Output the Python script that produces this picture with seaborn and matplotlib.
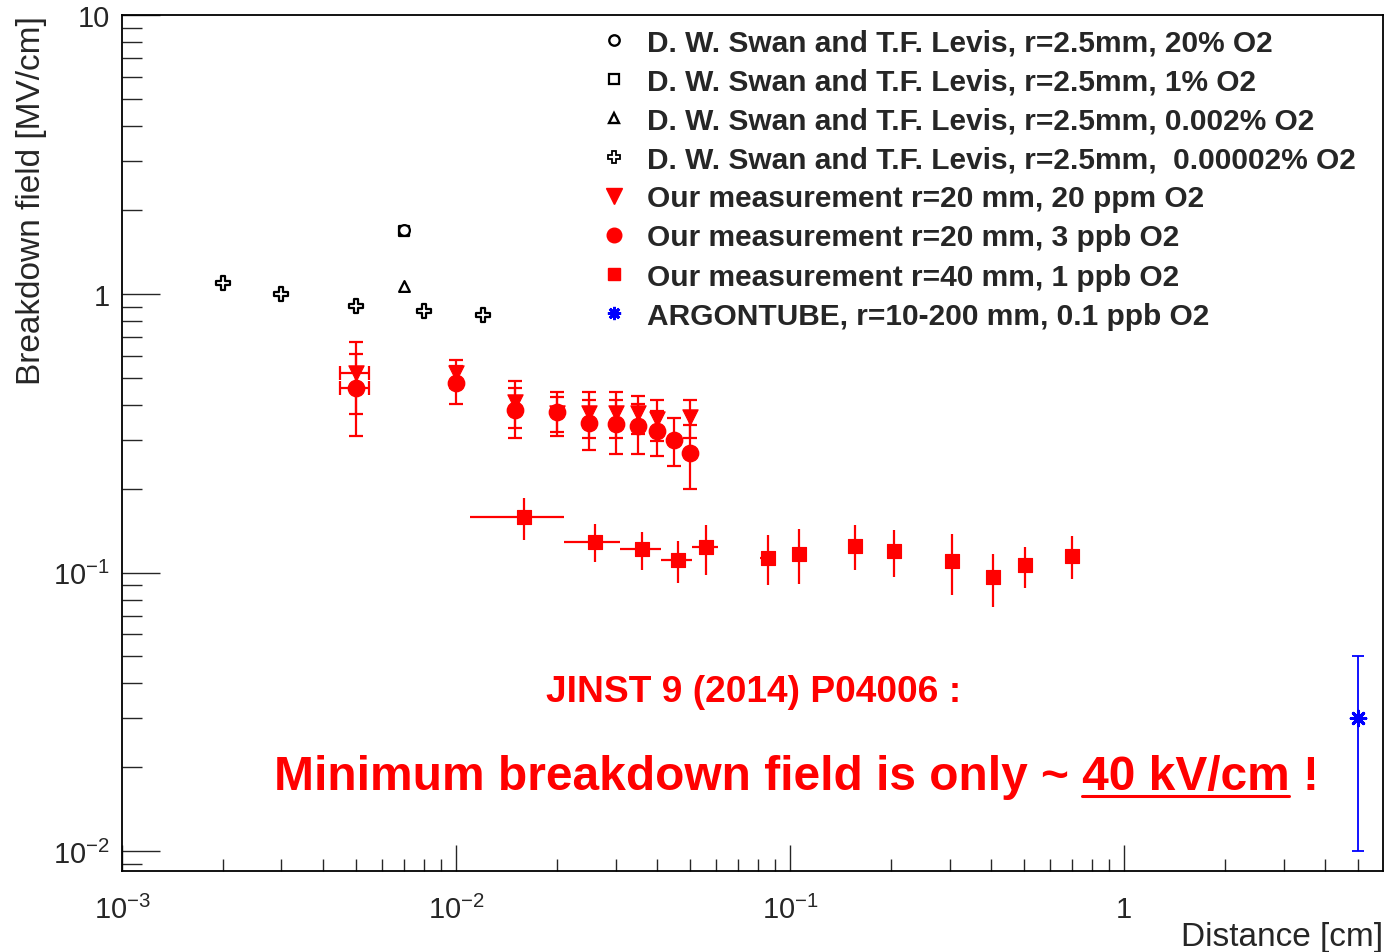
import numpy as np
import matplotlib
matplotlib.use("Agg")
import matplotlib.pyplot as plt
import matplotlib.ticker as mticker
from matplotlib.lines import Line2D
import pandas as pd
import seaborn as sns

sns.set_theme(style="white")
plt.rcParams["font.family"] = ["Liberation Sans", "DejaVu Sans"]
plt.rcParams["mathtext.fontset"] = "custom"
plt.rcParams["mathtext.rm"] = "Liberation Sans"

# D. W. Swan and T.F. Levis, r=2.5mm
swan_20_x = [0.007]
swan_20_y = [1.70]
swan_1_x = [0.007]
swan_1_y = [1.68]
swan_002_x = [0.007]
swan_002_y = [1.07]
swan_00002_x = [0.002, 0.003, 0.005, 0.008, 0.012]
swan_00002_y = [1.09, 1.00, 0.905, 0.87, 0.84]

# our measurement r=20 mm, 20 ppm O2
ppm_x = [0.005, 0.010, 0.015, 0.020, 0.025, 0.030, 0.035, 0.040, 0.050]
ppm_y = [0.52, 0.52, 0.408, 0.372, 0.374, 0.374, 0.372, 0.356, 0.36]
ppm_yerr = [0.15, 0.06, 0.077, 0.054, 0.07, 0.07, 0.058, 0.06, 0.057]
ppm_xerr = [0.0005, 0, 0, 0, 0, 0, 0, 0, 0]

# our measurement r=20 mm, 3 ppb O2
ppb3_x = [0.005, 0.010, 0.015, 0.020, 0.025, 0.030, 0.035, 0.040, 0.045, 0.050]
ppb3_y = [0.46, 0.478, 0.382, 0.376, 0.345, 0.342, 0.335, 0.321, 0.300, 0.268]
ppb3_yerr = [0.15, 0.075, 0.077, 0.067, 0.07, 0.075, 0.068, 0.059, 0.059, 0.069]
ppb3_xerr = [0.0005, 0, 0, 0, 0, 0, 0, 0, 0, 0]

# our measurement r=40 mm, 1 ppb O2
ppb1_x = [0.016, 0.026, 0.036, 0.046, 0.056, 0.086, 0.106, 0.156, 0.205,
          0.305, 0.405, 0.505, 0.70]
ppb1_y = [0.158, 0.129, 0.121, 0.111, 0.123, 0.113, 0.117, 0.125, 0.119,
          0.110, 0.096, 0.106, 0.115]
ppb1_yerr = [0.027, 0.02, 0.019, 0.019, 0.025, 0.023, 0.026, 0.023, 0.023,
             0.027, 0.021, 0.018, 0.02]
ppb1_xerr = [0.005] * 13

# ARGONTUBE
argon_x = [5.0]
argon_y = [0.03]
argon_yerr = [0.02]

legend_labels = [
    "D. W. Swan and T.F. Levis, r=2.5mm, 20% O2",
    "D. W. Swan and T.F. Levis, r=2.5mm, 1% O2",
    "D. W. Swan and T.F. Levis, r=2.5mm, 0.002% O2",
    "D. W. Swan and T.F. Levis, r=2.5mm,  0.00002% O2",
    "Our measurement r=20 mm, 20 ppm O2",
    "Our measurement r=20 mm, 3 ppb O2",
    "Our measurement r=40 mm, 1 ppb O2",
    "ARGONTUBE, r=10-200 mm, 0.1 ppb O2",
]

RED = "#ff0000"
BLUE = "#0000ff"
NOTE_FONT = ["Liberation Sans Narrow", "Liberation Sans"]
MAIN_SIZE = 34.5

fig = plt.figure(figsize=(13.87, 9.53), dpi=100)
ax = fig.add_axes([0.088, 0.085, 0.9091, 0.8982])
ax.set_xscale("log")
ax.set_yscale("log")
ax.set_xlim(1e-3, 5.95)
ax.set_ylim(0.0085, 10)

# error bars
ax.errorbar(ppm_x, ppm_y, yerr=ppm_yerr, xerr=ppm_xerr, fmt="none",
            ecolor=RED, elinewidth=1.6, capsize=5, capthick=1.6, zorder=2)
ax.errorbar(ppb3_x, ppb3_y, yerr=ppb3_yerr, xerr=ppb3_xerr, fmt="none",
            ecolor=RED, elinewidth=1.6, capsize=5, capthick=1.6, zorder=2)
ax.errorbar(ppb1_x, ppb1_y, yerr=ppb1_yerr, xerr=ppb1_xerr, fmt="none",
            ecolor=RED, elinewidth=1.6, capsize=0, zorder=2)
ax.errorbar(argon_x, argon_y, yerr=argon_yerr, fmt="none",
            ecolor=BLUE, elinewidth=1.3, capsize=4, capthick=1.3, zorder=2)

# markers
kw_open = dict(facecolor="white", edgecolor="black", linewidth=1.6, ax=ax,
               legend=False, zorder=3)
sns.scatterplot(x=swan_1_x, y=swan_1_y, marker="s", s=55, **kw_open)
sns.scatterplot(x=swan_20_x, y=swan_20_y, marker="o", s=60, **kw_open)
sns.scatterplot(x=swan_002_x, y=swan_002_y, marker="^", s=60, **kw_open)
sns.scatterplot(x=swan_00002_x, y=swan_00002_y, marker="P", s=95, **kw_open)

sns.scatterplot(x=ppm_x, y=ppm_y, marker="v", s=120, color=RED,
                edgecolor=RED, ax=ax, legend=False, zorder=3)
sns.scatterplot(x=ppb3_x, y=ppb3_y, marker="o", s=140, color=RED,
                edgecolor=RED, ax=ax, legend=False, zorder=4)
sns.scatterplot(x=ppb1_x, y=ppb1_y, marker="s", s=105, color=RED,
                edgecolor=RED, ax=ax, legend=False, zorder=4)
sns.scatterplot(x=argon_x, y=argon_y, marker=(8, 2, 0), s=110, color=BLUE,
                edgecolor=BLUE, linewidth=2.2, ax=ax, legend=False, zorder=4)

# axes style
for sp in ax.spines.values():
    sp.set_color("black")
    sp.set_linewidth(1.3)
ax.xaxis.set_major_locator(mticker.FixedLocator([1e-3, 1e-2, 1e-1, 1]))
ax.xaxis.set_major_formatter(mticker.FixedFormatter(
    [r"$\mathregular{10^{-3}}$", r"$\mathregular{10^{-2}}$",
     r"$\mathregular{10^{-1}}$", "1"]))
ax.xaxis.set_minor_locator(mticker.LogLocator(base=10, subs=np.arange(2, 10),
                                              numticks=20))
ax.xaxis.set_minor_formatter(mticker.NullFormatter())
ax.yaxis.set_major_locator(mticker.FixedLocator([1e-2, 1e-1, 1, 10]))
ax.yaxis.set_major_formatter(mticker.FixedFormatter(
    [r"$\mathregular{10^{-2}}$", r"$\mathregular{10^{-1}}$", "1", "10"]))
ax.yaxis.set_minor_locator(mticker.LogLocator(base=10, subs=np.arange(2, 10),
                                              numticks=20))
ax.yaxis.set_minor_formatter(mticker.NullFormatter())
ax.tick_params(axis="x", which="major", direction="in", length=18.5,
               width=1, pad=17, labelsize=21, top=False, bottom=True)
ax.tick_params(axis="x", which="minor", direction="in", length=8.6,
               width=1, top=False, bottom=True)
ax.tick_params(axis="y", which="major", direction="in", length=27.5,
               width=1, pad=9, labelsize=21, right=False, left=True)
ax.tick_params(axis="y", which="minor", direction="in", length=14.4,
               width=1, right=False, left=True)

ax.set_xlabel("Distance [cm]", fontsize=24, loc="right")
ax.xaxis.set_label_coords(1.0, -0.059)
ax.set_ylabel("Breakdown field [MV/cm]", fontsize=24, loc="top", labelpad=4)

# legend
handles = [
    Line2D([], [], ls="none", marker="o", ms=7.5, mfc="white", mec="black", mew=1.7),
    Line2D([], [], ls="none", marker="s", ms=7.5, mfc="white", mec="black", mew=1.6),
    Line2D([], [], ls="none", marker="^", ms=7.5, mfc="white", mec="black", mew=1.7),
    Line2D([], [], ls="none", marker="P", ms=8.5, mfc="white", mec="black", mew=1.3),
    Line2D([], [], ls="none", marker="v", ms=11, mfc=RED, mec=RED),
    Line2D([], [], ls="none", marker="o", ms=10.5, mfc=RED, mec=RED),
    Line2D([], [], ls="none", marker="s", ms=8.5, mfc=RED, mec=RED),
    Line2D([], [], ls="none", marker=(8, 2, 0), ms=9.5, mfc=BLUE, mec=BLUE, mew=2),
]
leg = ax.legend(handles, legend_labels, loc="upper left",
                bbox_to_anchor=(0.368, 1.002), frameon=False,
                prop={"family": "Liberation Sans", "weight": "bold", "size": 21.5},
                handlelength=0.9, handletextpad=0.65, labelspacing=0.37,
                borderpad=0.0)

# annotations
ax.text(0.501, 0.210, "JINST 9 (2014) P04006 :", transform=ax.transAxes,
        ha="center", va="center", color=RED, fontsize=26.7, fontweight="bold",
        family=NOTE_FONT)
main = "Minimum breakdown field is only ~ 40 kV/cm !"
t = ax.text(0.5345, 0.110, main, transform=ax.transAxes, ha="center",
            va="center", color=RED, fontsize=MAIN_SIZE, fontweight="bold",
            family=NOTE_FONT)

fig.canvas.draw()
renderer = fig.canvas.get_renderer()
bb = t.get_window_extent(renderer)


def text_width(s):
    tmp = ax.text(0, 0, s, fontsize=MAIN_SIZE, fontweight="bold",
                  family=NOTE_FONT)
    w = tmp.get_window_extent(renderer).width
    tmp.remove()
    return w


x_end = bb.x0 + text_width("Minimum breakdown field is only ~ 40 kV/cm")
x_start = x_end - text_width("40 kV/cm")
y_line = bb.y0 + 3
inv = fig.transFigure.inverted()
(fx0, fy), (fx1, _) = inv.transform([(x_start, y_line), (x_end, y_line)])
fig.add_artist(Line2D([fx0, fx1], [fy, fy], color=RED, lw=2.2))

fig.savefig("out.png", dpi=100)
